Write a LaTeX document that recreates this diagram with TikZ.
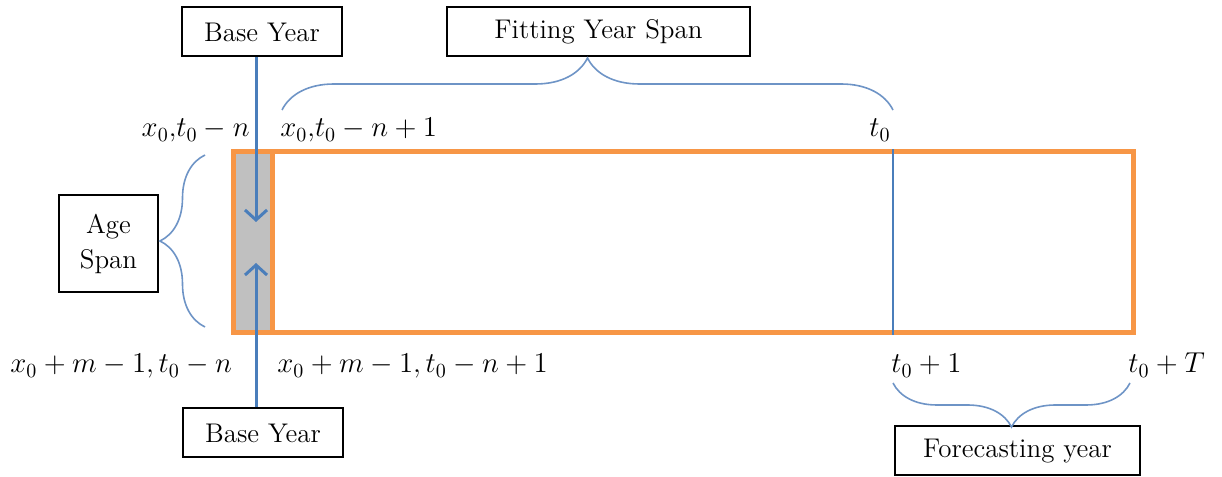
\documentclass[tikz,border=0pt]{standalone}
\usepackage{tikz}
\usetikzlibrary{arrows.meta,positioning,decorations.pathreplacing}
\definecolor{frameorange}{RGB}{247,150,70}
\definecolor{arrowblue}{RGB}{74,126,187}
\definecolor{bracecol}{RGB}{110,148,198}
\definecolor{stripgrey}{RGB}{192,192,192}
\tikzset{
  box/.style={draw, line width=1pt, align=center, inner sep=2pt, font=\fontsize{13.5}{17.5}\selectfont},
  lbl/.style={inner sep=0pt, font=\fontsize{14}{17}\selectfont},
  flow/.style={-{Straight Barb[length=5pt,width=11pt]}, line width=1.5pt, arrowblue},
  brc/.style={decorate, decoration={brace, amplitude=#1}, bracecol, line width=0.8pt},
  frame/.style={draw=frameorange, line width=2.5pt, inner sep=0pt},
}

\begin{document}
\begin{tikzpicture}[x=0.5pt, y=0.5pt]
  \useasboundingbox (0,0) rectangle (1222,477);
  % data window and base-year strip
  \node[frame, minimum width=450pt, minimum height=90.5pt] (win) at (683,234.5) {};
  \node[frame, fill=stripgrey, minimum width=19.5pt, minimum height=90.5pt, anchor=west] (base) at (win.west) {};
  \coordinate (split) at (893,234.5);
  \draw[arrowblue, line width=0.8pt] (split |- win.north) -- (split |- win.south);

  \node[box, minimum width=80pt, minimum height=24.5pt] (basetop) at (262,445) {Base Year};
  \node[box, minimum width=80pt, minimum height=24.5pt] (basebot) at (263,44) {Base Year};
  \node[box, minimum width=151.5pt, minimum height=24.5pt] (fit) at (598.5,445) {Fitting Year Span};
  \node[box, minimum width=49.5pt, minimum height=48.5pt] (age) at (108.5,233.5) {Age\\Span};
  \node[box, minimum width=122.5pt, minimum height=24.5pt] (fore) at (1017.5,26) {Forecasting year};

  \coordinate (tiptop) at (256,255);
  \coordinate (tipbot) at (256,214);
  \draw[flow] (basetop.south -| tiptop) -- (tiptop);
  \draw[flow] (basebot.north -| tipbot) -- (tipbot);

  % braces
  \coordinate (fitL) at (282,367);
  \coordinate (fitR) at (893,367);
  \coordinate (ageB) at (205,150);
  \coordinate (ageT) at (205,322);
  \coordinate (foreL) at (893,94);
  \coordinate (foreR) at (1130,94);
  \draw[brc=26pt] (fitL) -- (fitR);
  \draw[brc=22.5pt] (ageB) -- (ageT);
  \draw[brc=22pt] (foreR) -- (foreL);

  \node[lbl, anchor=base east] (cTL) at (250,340) {$x_0$,$t_0-n$};
  \node[lbl, anchor=base west] (cTR) at (280,340) {$x_0$,$t_0-n+1$};
  \node[lbl, anchor=base west] (cT0) at (869,340) {$t_0$};
  \node[lbl, anchor=base west] (cBL) at (10,104) {$x_0+m-1, t_0-n$};
  \node[lbl, anchor=base west] (cBR) at (277,104) {$x_0+m-1, t_0-n+1$};
  \node[lbl, anchor=base west] (cT1) at (891,104) {$t_0+1$};
  \node[lbl, anchor=base west] (cTT) at (1128,104) {$t_0+T$};
\end{tikzpicture}
\end{document}
